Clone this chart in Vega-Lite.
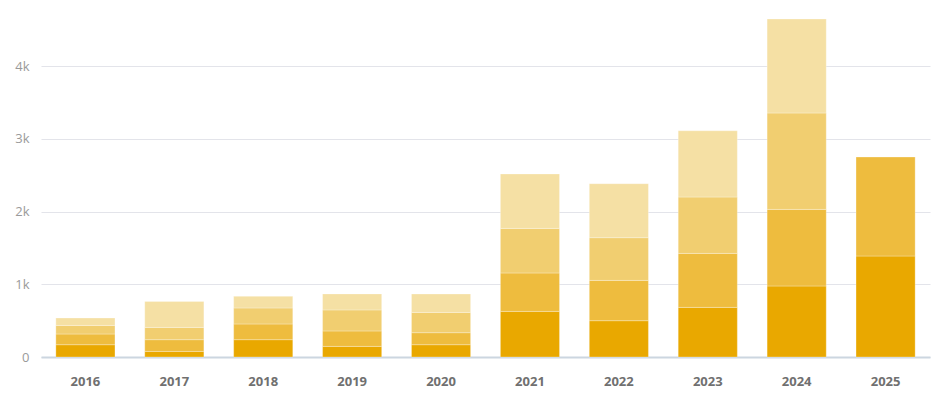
{
  "$schema": "https://vega.github.io/schema/vega-lite/v6.json",
  "width": 889,
  "height": 347,
  "autosize": {"type": "none"},
  "padding": {"left": 41, "top": 10, "right": 22, "bottom": 42},
  "background": "white",
  "config": {"view": {"stroke": null}},
  "data": {"values": [
    {"year": "2016", "q": "Q1", "v": 169}, {"year": "2016", "q": "Q2", "v": 147}, {"year": "2016", "q": "Q3", "v": 118}, {"year": "2016", "q": "Q4", "v": 102},
    {"year": "2017", "q": "Q1", "v": 77}, {"year": "2017", "q": "Q2", "v": 161}, {"year": "2017", "q": "Q3", "v": 169}, {"year": "2017", "q": "Q4", "v": 357},
    {"year": "2018", "q": "Q1", "v": 238}, {"year": "2018", "q": "Q2", "v": 216}, {"year": "2018", "q": "Q3", "v": 220}, {"year": "2018", "q": "Q4", "v": 160},
    {"year": "2019", "q": "Q1", "v": 146}, {"year": "2019", "q": "Q2", "v": 212}, {"year": "2019", "q": "Q3", "v": 289}, {"year": "2019", "q": "Q4", "v": 220},
    {"year": "2020", "q": "Q1", "v": 169}, {"year": "2020", "q": "Q2", "v": 165}, {"year": "2020", "q": "Q3", "v": 279}, {"year": "2020", "q": "Q4", "v": 253},
    {"year": "2021", "q": "Q1", "v": 627}, {"year": "2021", "q": "Q2", "v": 528}, {"year": "2021", "q": "Q3", "v": 613}, {"year": "2021", "q": "Q4", "v": 748},
    {"year": "2022", "q": "Q1", "v": 499}, {"year": "2022", "q": "Q2", "v": 554}, {"year": "2022", "q": "Q3", "v": 587}, {"year": "2022", "q": "Q4", "v": 742},
    {"year": "2023", "q": "Q1", "v": 682}, {"year": "2023", "q": "Q2", "v": 742}, {"year": "2023", "q": "Q3", "v": 775}, {"year": "2023", "q": "Q4", "v": 911},
    {"year": "2024", "q": "Q1", "v": 976}, {"year": "2024", "q": "Q2", "v": 1053}, {"year": "2024", "q": "Q3", "v": 1325}, {"year": "2024", "q": "Q4", "v": 1292},
    {"year": "2025", "q": "Q1", "v": 1388}, {"year": "2025", "q": "Q2", "v": 1361}
  ]},
  "mark": {"type": "bar", "stroke": "white", "strokeOpacity": 0.35, "strokeWidth": 0.8},
  "encoding": {
    "x": {
      "field": "year", "type": "ordinal",
      "scale": {"paddingInner": 0.335, "paddingOuter": 0.167},
      "axis": {
        "title": null, "labelAngle": 0, "labelFont": "Open Sans", "labelFontSize": 13,
        "labelFontWeight": "bold", "labelColor": "#707070", "labelPadding": 18,
        "ticks": false, "domainColor": "#ccd6e0", "domainWidth": 2
      }
    },
    "y": {
      "field": "v", "type": "quantitative", "aggregate": "sum",
      "scale": {"domain": [0, 4770], "nice": false},
      "axis": {
        "title": null, "values": [0, 1000, 2000, 3000, 4000],
        "labelExpr": "datum.value == 0 ? '0' : format(datum.value / 1000, 'd') + 'k'",
        "labelFont": "Open Sans", "labelFontSize": 13, "labelColor": "#9a9a9a",
        "labelPadding": 12, "ticks": false, "domain": false,
        "gridColor": "#e3e4ea", "gridWidth": 1.2
      }
    },
    "color": {
      "field": "q", "type": "nominal",
      "scale": {"domain": ["Q1", "Q2", "Q3", "Q4"], "range": ["#E9A800", "#EEBC3E", "#F1CE70", "#F5E0A4"]},
      "legend": null
    },
    "order": {"field": "q", "sort": "ascending"}
  }
}
